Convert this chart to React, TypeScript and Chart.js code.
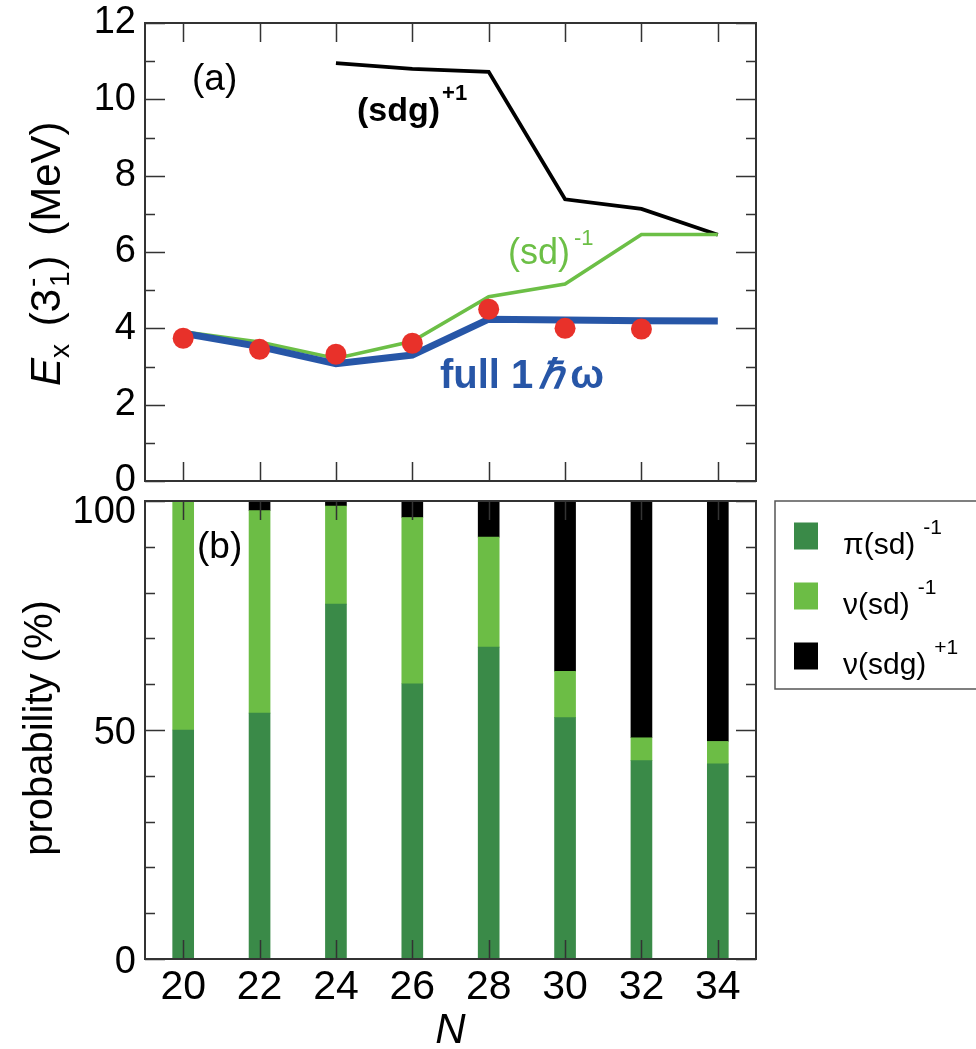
import React, { useEffect, useRef } from 'react';
import { Chart, registerables } from 'chart.js';

Chart.register(...registerables);

// ---------- data ----------
const N_LABELS = ['20', '22', '24', '26', '28', '30', '32', '34'];
const N_VALUES = [20, 22, 24, 26, 28, 30, 32, 34];

const SDG_N = [24, 26, 28, 30, 32, 34];
const SDG_ENERGY = [10.95, 10.8, 10.72, 7.38, 7.13, 6.45];
const SD_ENERGY = [3.91, 3.64, 3.21, 3.66, 4.83, 5.16, 6.46, 6.46];
const FULL_ENERGY = [3.87, 3.52, 3.07, 3.3, 4.24, 4.22, 4.2, 4.19];
const EXP_N = [20, 22, 24, 26, 28, 30, 32];
const EXP_ENERGY = [3.74, 3.45, 3.32, 3.61, 4.5, 4.0, 3.98];

const PI_SD_PROB = [50, 53.7, 77.5, 60.1, 68.1, 52.7, 43.3, 42.6];
const NU_SD_PROB = [50, 44.2, 21.4, 36.3, 24.0, 10.1, 5.0, 4.9];
const NU_SDG_PROB = [0, 2.1, 1.1, 3.6, 7.9, 37.2, 51.7, 52.5];

const TOP_Y_MAJOR = [0, 2, 4, 6, 8, 10, 12];
const TOP_Y_MINOR = [1, 3, 5, 7, 9, 11];
const BOT_Y_MAJOR = [0, 50, 100];
const BOT_Y_MINOR = [10, 20, 30, 40, 60, 70, 80, 90];

// ---------- style ----------
const W = 976;
const H = 1049;
const FONT = '"Liberation Sans", Arial, Helvetica, sans-serif';
const BLUE = '#2756a7';
const LINE_GREEN = '#6cbf46';
const DARK_GREEN = '#3a8a48';
const LIGHT_GREEN = '#6cbd45';
const RED = '#e8312a';

type Run = { t: string; font: string; dy?: number; gap?: number; noAdvance?: boolean };

function drawSeq(ctx: CanvasRenderingContext2D, x: number, y: number, runs: Run[]) {
  let cx = x;
  for (const r of runs) {
    cx += r.gap || 0;
    ctx.font = r.font;
    ctx.fillText(r.t, cx, y + (r.dy || 0));
    if (!r.noAdvance) cx += ctx.measureText(r.t).width;
  }
  return cx;
}

const framePlugin = {
  id: 'frame',
  afterDatasetsDraw(chart: any, _args: any, opts: any) {
    const { ctx, chartArea: a, scales } = chart;
    const xs = scales.x;
    const ys = scales.y;
    ctx.save();
    ctx.strokeStyle = '#333';
    ctx.lineWidth = 1.5;
    ctx.beginPath();
    for (const v of opts.xMajor) {
      const px = Math.round(xs.getPixelForValue(v)) + 0.5;
      ctx.moveTo(px, a.bottom);
      ctx.lineTo(px, a.bottom - 19);
      ctx.moveTo(px, a.top);
      ctx.lineTo(px, a.top + 19);
    }
    for (const v of opts.yMajor) {
      const py = Math.round(ys.getPixelForValue(v)) + 0.5;
      ctx.moveTo(a.left, py);
      ctx.lineTo(a.left + 20, py);
      ctx.moveTo(a.right, py);
      ctx.lineTo(a.right - 20, py);
    }
    for (const v of opts.yMinor) {
      const py = Math.round(ys.getPixelForValue(v)) + 0.5;
      ctx.moveTo(a.left, py);
      ctx.lineTo(a.left + 10, py);
      ctx.moveTo(a.right, py);
      ctx.lineTo(a.right - 10, py);
    }
    ctx.stroke();
    ctx.lineWidth = 2;
    ctx.strokeRect(a.left, a.top, a.right - a.left, a.bottom - a.top);
    ctx.restore();
  },
};

const topTextPlugin = {
  id: 'topText',
  afterDraw(chart: any) {
    const ctx: CanvasRenderingContext2D = chart.ctx;
    ctx.save();
    ctx.textBaseline = 'alphabetic';
    ctx.textAlign = 'left';
    // panel label
    ctx.fillStyle = '#000';
    ctx.font = `37px ${FONT}`;
    ctx.fillText('(a)', 192, 90);
    // (sdg)^+1
    drawSeq(ctx, 357, 121, [
      { t: '(sdg)', font: `bold 34px ${FONT}` },
      { t: '+1', font: `bold 22px ${FONT}`, dy: -21, gap: 2 },
    ]);
    // (sd)^-1
    ctx.fillStyle = LINE_GREEN;
    drawSeq(ctx, 508, 264, [
      { t: '(sd)', font: `36px ${FONT}` },
      { t: '-1', font: `22px ${FONT}`, dy: -19, gap: 4 },
    ]);
    // full 1 hbar omega
    ctx.fillStyle = BLUE;
    drawSeq(ctx, 440, 388, [
      { t: 'full 1', font: `bold 40px ${FONT}` },
      { t: 'ℏ', font: `italic bold 40px ${FONT}`, gap: 6 },
      { t: 'ω', font: `bold 40px ${FONT}`, gap: 6 },
    ]);
    // y-axis title (rotated)
    ctx.fillStyle = '#000';
    ctx.translate(60, 386);
    ctx.rotate(-Math.PI / 2);
    drawSeq(ctx, 0, 0, [
      { t: 'E', font: `italic 42px ${FONT}` },
      { t: 'x', font: `28px ${FONT}`, dy: 9 },
      { t: ' (', font: `42px ${FONT}`, gap: 6 },
      { t: '3', font: `42px ${FONT}` },
      { t: '-', font: `28px ${FONT}`, dy: -19, noAdvance: true, gap: 2 },
      { t: '1', font: `28px ${FONT}`, dy: 9 },
      { t: ')', font: `42px ${FONT}`, gap: 2 },
      { t: ' (MeV)', font: `42px ${FONT}`, gap: 8 },
    ]);
    ctx.restore();
  },
};

const botTextPlugin = {
  id: 'botText',
  afterDraw(chart: any) {
    const ctx: CanvasRenderingContext2D = chart.ctx;
    const a = chart.chartArea;
    ctx.save();
    ctx.textBaseline = 'alphabetic';
    ctx.fillStyle = '#000';
    ctx.font = `37px ${FONT}`;
    ctx.textAlign = 'left';
    ctx.fillText('(b)', 197, 558);
    // x title
    ctx.textAlign = 'center';
    ctx.font = `italic 42px ${FONT}`;
    ctx.fillText('N', (a.left + a.right) / 2, 1043);
    // legend
    ctx.textAlign = 'left';
    ctx.strokeStyle = '#555';
    ctx.lineWidth = 1.5;
    ctx.strokeRect(775, 501, 260, 188);
    const items = [
      { color: DARK_GREEN, main: 'π(sd)', sup: '-1', cy: 536 },
      { color: LIGHT_GREEN, main: 'ν(sd)', sup: '-1', cy: 596 },
      { color: '#000', main: 'ν(sdg)', sup: '+1', cy: 656 },
    ];
    for (const it of items) {
      ctx.fillStyle = it.color;
      ctx.fillRect(794, it.cy - 13.5, 24, 27);
      ctx.fillStyle = '#000';
      drawSeq(ctx, 843, it.cy + 18, [
        { t: it.main, font: `30px ${FONT}` },
        { t: it.sup, font: `21px ${FONT}`, dy: -20, gap: 8 },
      ]);
    }
    // y title (rotated)
    ctx.translate(52, 728);
    ctx.rotate(-Math.PI / 2);
    ctx.textAlign = 'center';
    ctx.font = `40px ${FONT}`;
    ctx.fillText('probability (%)', 0, 0);
    ctx.restore();
  },
};

export default function App() {
  const topRef = useRef<HTMLCanvasElement>(null);
  const botRef = useRef<HTMLCanvasElement>(null);

  useEffect(() => {
    const top = new Chart(topRef.current as HTMLCanvasElement, {
      type: 'line',
      data: {
        datasets: [
          {
            label: 'experiment',
            data: EXP_N.map((n, i) => ({ x: n, y: EXP_ENERGY[i] })),
            showLine: false,
            pointRadius: 10.5,
            pointBackgroundColor: RED,
            pointBorderColor: RED,
            pointBorderWidth: 0,
            borderColor: RED,
          },
          {
            label: 'full 1ħω',
            data: N_VALUES.map((n, i) => ({ x: n, y: FULL_ENERGY[i] })),
            borderColor: BLUE,
            borderWidth: 7,
            pointRadius: 0,
            tension: 0,
          },
          {
            label: '(sd)^-1',
            data: N_VALUES.map((n, i) => ({ x: n, y: SD_ENERGY[i] })),
            borderColor: LINE_GREEN,
            borderWidth: 3.5,
            pointRadius: 0,
            tension: 0,
          },
          {
            label: '(sdg)^+1',
            data: SDG_N.map((n, i) => ({ x: n, y: SDG_ENERGY[i] })),
            borderColor: '#000',
            borderWidth: 3.8,
            pointRadius: 0,
            tension: 0,
          },
        ],
      },
      options: {
        animation: false,
        responsive: false,
        devicePixelRatio: 1,
        events: [],
        layout: { padding: { top: 23, right: W - 756, bottom: H - 481, left: 0 } },
        scales: {
          x: { type: 'linear', min: 19, max: 35, display: false },
          y: {
            min: 0,
            max: 12,
            grid: { display: false, drawTicks: false },
            border: { display: false },
            ticks: { stepSize: 2, color: '#000', padding: 9, font: { family: FONT, size: 38, lineHeight: 0.7 } },
            afterFit: (s: any) => {
              s.width = 145;
            },
          },
        },
        plugins: {
          legend: { display: false },
          tooltip: { enabled: false },
          frame: { xMajor: N_VALUES, yMajor: TOP_Y_MAJOR, yMinor: TOP_Y_MINOR },
        } as any,
      },
      plugins: [framePlugin, topTextPlugin],
    });

    const bot = new Chart(botRef.current as HTMLCanvasElement, {
      type: 'bar',
      data: {
        labels: N_LABELS,
        datasets: [
          { label: 'π(sd)^-1', data: PI_SD_PROB, backgroundColor: DARK_GREEN, barThickness: 21, borderWidth: 0 },
          { label: 'ν(sd)^-1', data: NU_SD_PROB, backgroundColor: LIGHT_GREEN, barThickness: 21, borderWidth: 0 },
          { label: 'ν(sdg)^+1', data: NU_SDG_PROB, backgroundColor: '#000', barThickness: 21, borderWidth: 0 },
        ],
      },
      options: {
        animation: false,
        responsive: false,
        devicePixelRatio: 1,
        events: [],
        layout: { padding: { top: 501, right: W - 756, bottom: 0, left: 0 } },
        scales: {
          x: {
            stacked: true,
            offset: true,
            grid: { display: false, drawTicks: false },
            border: { display: false },
            ticks: { color: '#000', padding: 4, autoSkip: false, maxRotation: 0, font: { family: FONT, size: 41 } },
            afterFit: (s: any) => {
              s.height = H - 959;
            },
          },
          y: {
            stacked: true,
            min: 0,
            max: 100,
            grid: { display: false, drawTicks: false },
            border: { display: false },
            ticks: {
              stepSize: 50,
              color: '#000',
              padding: 9,
              labelOffset: 4,
              font: { family: FONT, size: 38, lineHeight: '16px' },
              callback: (v: any) => (Number(v) === 100 ? ['', '100'] : String(v)),
            },
            afterFit: (s: any) => {
              s.width = 145;
            },
          },
        },
        plugins: {
          legend: { display: false },
          tooltip: { enabled: false },
          frame: { xMajor: N_LABELS.map((_, i) => i), yMajor: BOT_Y_MAJOR, yMinor: BOT_Y_MINOR },
        } as any,
      },
      plugins: [framePlugin, botTextPlugin],
    });

    return () => {
      top.destroy();
      bot.destroy();
    };
  }, []);

  const cs: React.CSSProperties = { position: 'absolute', left: 0, top: 0, width: W, height: H };
  return (
    <div style={{ position: 'absolute', left: 0, top: 0, width: W, height: H, background: '#fff', overflow: 'hidden' }}>
      <canvas ref={botRef} width={W} height={H} style={cs} />
      <canvas ref={topRef} width={W} height={H} style={cs} />
    </div>
  );
}
